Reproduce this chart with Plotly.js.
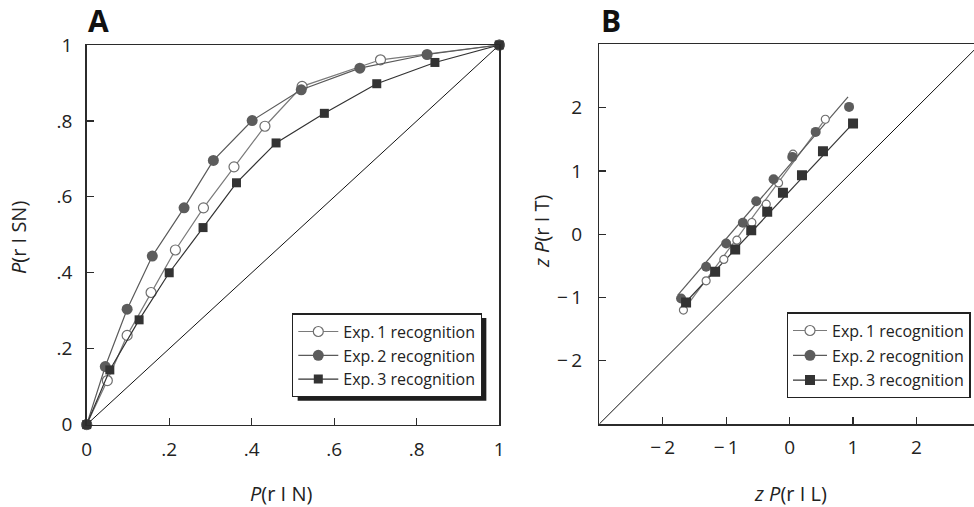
<!DOCTYPE html>
<html>
<head>
<meta charset="utf-8">
<script src="https://cdn.plot.ly/plotly-3.0.1.min.js"></script>
<style>html,body{margin:0;padding:0;overflow:hidden;background:#fff}#chart{width:974px;height:507px}</style>
</head>
<body>
<div id="chart"></div>
<script>
// ---------- Panel A: ROC ----------
const rocExp1X = [0, 0.050, 0.098, 0.156, 0.215, 0.283, 0.357, 0.432, 0.522, 0.712, 1];
const rocExp1Y = [0, 0.116, 0.235, 0.348, 0.460, 0.571, 0.679, 0.786, 0.891, 0.961, 1];
const rocExp2X = [0, 0.045, 0.098, 0.159, 0.236, 0.307, 0.401, 0.520, 0.662, 0.825, 1];
const rocExp2Y = [0, 0.153, 0.304, 0.444, 0.571, 0.696, 0.801, 0.882, 0.939, 0.975, 1];
const rocExp3X = [0, 0.056, 0.127, 0.200, 0.282, 0.363, 0.459, 0.576, 0.703, 0.844, 1];
const rocExp3Y = [0, 0.144, 0.276, 0.400, 0.519, 0.637, 0.742, 0.820, 0.898, 0.954, 1];
const chanceA = [0, 1];
const tickValsA = [0, 0.2, 0.4, 0.6, 0.8, 1];
const tickTextA = ['0', '.2', '.4', '.6', '.8', '1'];

// ---------- Panel B: zROC ----------
const zExp1X = [-1.674, -1.316, -1.037, -0.832, -0.595, -0.368, -0.174, 0.053, 0.563];
const zExp1Y = [-1.200, -0.737, -0.400, -0.095, 0.184, 0.474, 0.810, 1.263, 1.816];
const zExp2X = [-1.711, -1.316, -1.000, -0.737, -0.526, -0.253, 0.042, 0.411, 0.937];
const zExp2Y = [-1.016, -0.516, -0.147, 0.179, 0.521, 0.868, 1.221, 1.616, 2.011];
const zExp3X = [-1.632, -1.174, -0.858, -0.605, -0.353, -0.105, 0.195, 0.526, 1.000];
const zExp3Y = [-1.079, -0.595, -0.242, 0.063, 0.353, 0.653, 0.932, 1.311, 1.747];
const fit1X = [-1.70, 0.60];
const fit1Y = [-1.24, 1.87];
const fit2X = [-1.763, 0.921];
const fit2Y = [-0.963, 2.168];
const fit3X = [-1.66, 1.00];
const fit3Y = [-1.10, 1.75];
const chanceB = [-3, 3];
const tickValsB = [-2, -1, 0, 1, 2];
const tickTextB = ['\u2212\u20092', '\u2212\u20091', '0', '1', '2'];

const seriesNames = ['Exp.\u20091 recognition', 'Exp.\u20092 recognition', 'Exp.\u20093 recognition'];

const FONT = '"Open Sans", "Noto Sans", sans-serif';
const C1 = '#6e6e6e', C2 = '#5c5c5c', C3 = '#333333', FRAME = '#2b2b2b';
const L1 = '#7a7a7a', L2 = '#5a5a5a', L3 = '#333333';

const traces = [
  // Panel A
  {x: chanceA, y: chanceA, mode: 'lines', line: {color: '#111', width: 1}, showlegend: false, hoverinfo: 'skip', xaxis: 'x', yaxis: 'y'},
  {x: rocExp1X, y: rocExp1Y, mode: 'lines+markers', name: seriesNames[0], line: {color: L1, width: 1.2},
   marker: {symbol: 'circle', size: 10, color: 'white', line: {width: 1.2, color: C1}}, cliponaxis: false, xaxis: 'x', yaxis: 'y', legend: 'legend'},
  {x: rocExp2X, y: rocExp2Y, mode: 'lines+markers', name: seriesNames[1], line: {color: L2, width: 1.2},
   marker: {symbol: 'circle', size: 11, color: C2}, cliponaxis: false, xaxis: 'x', yaxis: 'y', legend: 'legend'},
  {x: rocExp3X, y: rocExp3Y, mode: 'lines+markers', name: seriesNames[2], line: {color: L3, width: 1.2},
   marker: {symbol: 'square', size: 9, color: C3}, cliponaxis: false, xaxis: 'x', yaxis: 'y', legend: 'legend'},
  // Panel B
  {x: chanceB, y: chanceB, mode: 'lines', line: {color: '#111', width: 1}, showlegend: false, hoverinfo: 'skip', xaxis: 'x2', yaxis: 'y2'},
  {x: fit1X, y: fit1Y, mode: 'lines', line: {color: L1, width: 1.2}, showlegend: false, xaxis: 'x2', yaxis: 'y2'},
  {x: fit2X, y: fit2Y, mode: 'lines', line: {color: L2, width: 1.2}, showlegend: false, xaxis: 'x2', yaxis: 'y2'},
  {x: fit3X, y: fit3Y, mode: 'lines', line: {color: L3, width: 1.2}, showlegend: false, xaxis: 'x2', yaxis: 'y2'},
  {x: zExp1X, y: zExp1Y, mode: 'markers', marker: {symbol: 'circle', size: 8, color: 'white', line: {width: 1.2, color: C1}}, showlegend: false, xaxis: 'x2', yaxis: 'y2'},
  {x: zExp2X, y: zExp2Y, mode: 'markers', marker: {symbol: 'circle', size: 10, color: C2}, showlegend: false, xaxis: 'x2', yaxis: 'y2'},
  {x: zExp3X, y: zExp3Y, mode: 'markers', marker: {symbol: 'square', size: 10, color: C3}, showlegend: false, xaxis: 'x2', yaxis: 'y2'},
  // legend entries for panel B
  {x: [null], y: [null], mode: 'lines+markers', name: seriesNames[0], line: {color: L1, width: 1.2},
   marker: {symbol: 'circle', size: 10, color: 'white', line: {width: 1.2, color: C1}}, xaxis: 'x2', yaxis: 'y2', legend: 'legend2', legendgroup: 'b1'},
  {x: [null], y: [null], mode: 'lines+markers', name: seriesNames[1], line: {color: L2, width: 1.2},
   marker: {symbol: 'circle', size: 11, color: C2}, xaxis: 'x2', yaxis: 'y2', legend: 'legend2', legendgroup: 'b2'},
  {x: [null], y: [null], mode: 'lines+markers', name: seriesNames[2], line: {color: L3, width: 1.2},
   marker: {symbol: 'square', size: 10, color: C3}, xaxis: 'x2', yaxis: 'y2', legend: 'legend2', legendgroup: 'b3'}
];

const W = 974, H = 507;
const px = v => v / W, py = v => 1 - v / H;

const axisCommon = {
  showgrid: false, zeroline: false, showline: true, linecolor: FRAME, linewidth: 1.5,
  ticks: 'inside', ticklen: 7, tickwidth: 1.3, tickcolor: FRAME,
  tickfont: {family: FONT, size: 19, color: '#222'}, fixedrange: true
};

const legendFont = {family: FONT, size: 16, color: '#222'};

const layout = {
  width: W, height: H,
  margin: {l: 0, r: 0, t: 0, b: 0},
  paper_bgcolor: 'white', plot_bgcolor: 'white',
  font: {family: FONT, color: '#222'},
  xaxis: Object.assign({}, axisCommon, {domain: [px(86.7), px(499.3)], range: [0, 1], mirror: true,
    tickvals: tickValsA, ticktext: tickTextA, ticklabelstandoff: 7, anchor: 'y'}),
  yaxis: Object.assign({}, axisCommon, {domain: [py(424.6), py(45)], range: [0, 1], mirror: true,
    tickvals: tickValsA, ticktext: tickTextA, ticklabelstandoff: 9, anchor: 'x'}),
  xaxis2: Object.assign({}, axisCommon, {domain: [px(599.3), 1], range: [-3, (974 - 790) / 63.3], mirror: true,
    tickvals: tickValsB, ticktext: tickTextB, ticklabelstandoff: 6, anchor: 'y2'}),
  yaxis2: Object.assign({}, axisCommon, {domain: [py(424), py(44.3)], range: [-3, 3], mirror: false,
    tickvals: tickValsB, ticktext: tickTextB, ticklabelstandoff: 12, anchor: 'x2'}),
  showlegend: true,
  legend: {x: px(482), xanchor: 'right', y: py(397.3), yanchor: 'bottom', bgcolor: 'white',
    bordercolor: '#222', borderwidth: 1.3, font: legendFont, itemwidth: 40},
  legend2: {x: px(970.7), xanchor: 'right', y: py(398.3), yanchor: 'bottom', bgcolor: 'white',
    bordercolor: '#222', borderwidth: 1.3, font: legendFont, itemwidth: 34,
    traceorder: 'grouped', tracegroupgap: 1},
  annotations: [
    {text: '<b>A</b>', x: px(98), y: py(21), xanchor: 'center', yanchor: 'middle', xref: 'paper', yref: 'paper', showarrow: false, font: {family: FONT, size: 30, color: '#111'}},
    {text: '<b>B</b>', x: px(611), y: py(21), xanchor: 'center', yanchor: 'middle', xref: 'paper', yref: 'paper', showarrow: false, font: {family: FONT, size: 30, color: '#111'}},
    {text: '<i>P</i>(r I N)', x: px(281), y: py(493), xanchor: 'center', yanchor: 'middle', xref: 'paper', yref: 'paper', showarrow: false, font: {family: FONT, size: 20, color: '#222'}},
    {text: '<i>z P</i>(r I L)', x: px(790), y: py(493), xanchor: 'center', yanchor: 'middle', xref: 'paper', yref: 'paper', showarrow: false, font: {family: FONT, size: 20, color: '#222'}},
    {text: '<i>P</i>(r I SN)', x: px(19), y: py(238), xanchor: 'center', yanchor: 'middle', xref: 'paper', yref: 'paper', showarrow: false, textangle: -90, font: {family: FONT, size: 20, color: '#222'}},
    {text: '<i>z P</i>(r I T)', x: px(541), y: py(232), xanchor: 'center', yanchor: 'middle', xref: 'paper', yref: 'paper', showarrow: false, textangle: -90, font: {family: FONT, size: 20, color: '#222'}}
  ]
};

const gd = document.getElementById('chart');
Plotly.newPlot(gd, traces, layout, {displayModeBar: false, staticPlot: true}).then(() => {
  const root = gd.getBoundingClientRect();
  const shapes = [];
  gd.querySelectorAll('.infolayer .legend .bg').forEach(bg => {
    const r = bg.getBoundingClientRect();
    const l = r.left - root.left, t = r.top - root.top, rr = r.right - root.left, b = r.bottom - root.top;
    shapes.push({type: 'rect', xref: 'paper', yref: 'paper', layer: 'above',
      x0: px(l + 5), x1: px(rr + 5), y0: py(t + 4), y1: py(b + 4), fillcolor: '#1e1e1e', line: {width: 0}});
  });
  return Plotly.relayout(gd, {shapes: shapes});
});
</script>
</body>
</html>
